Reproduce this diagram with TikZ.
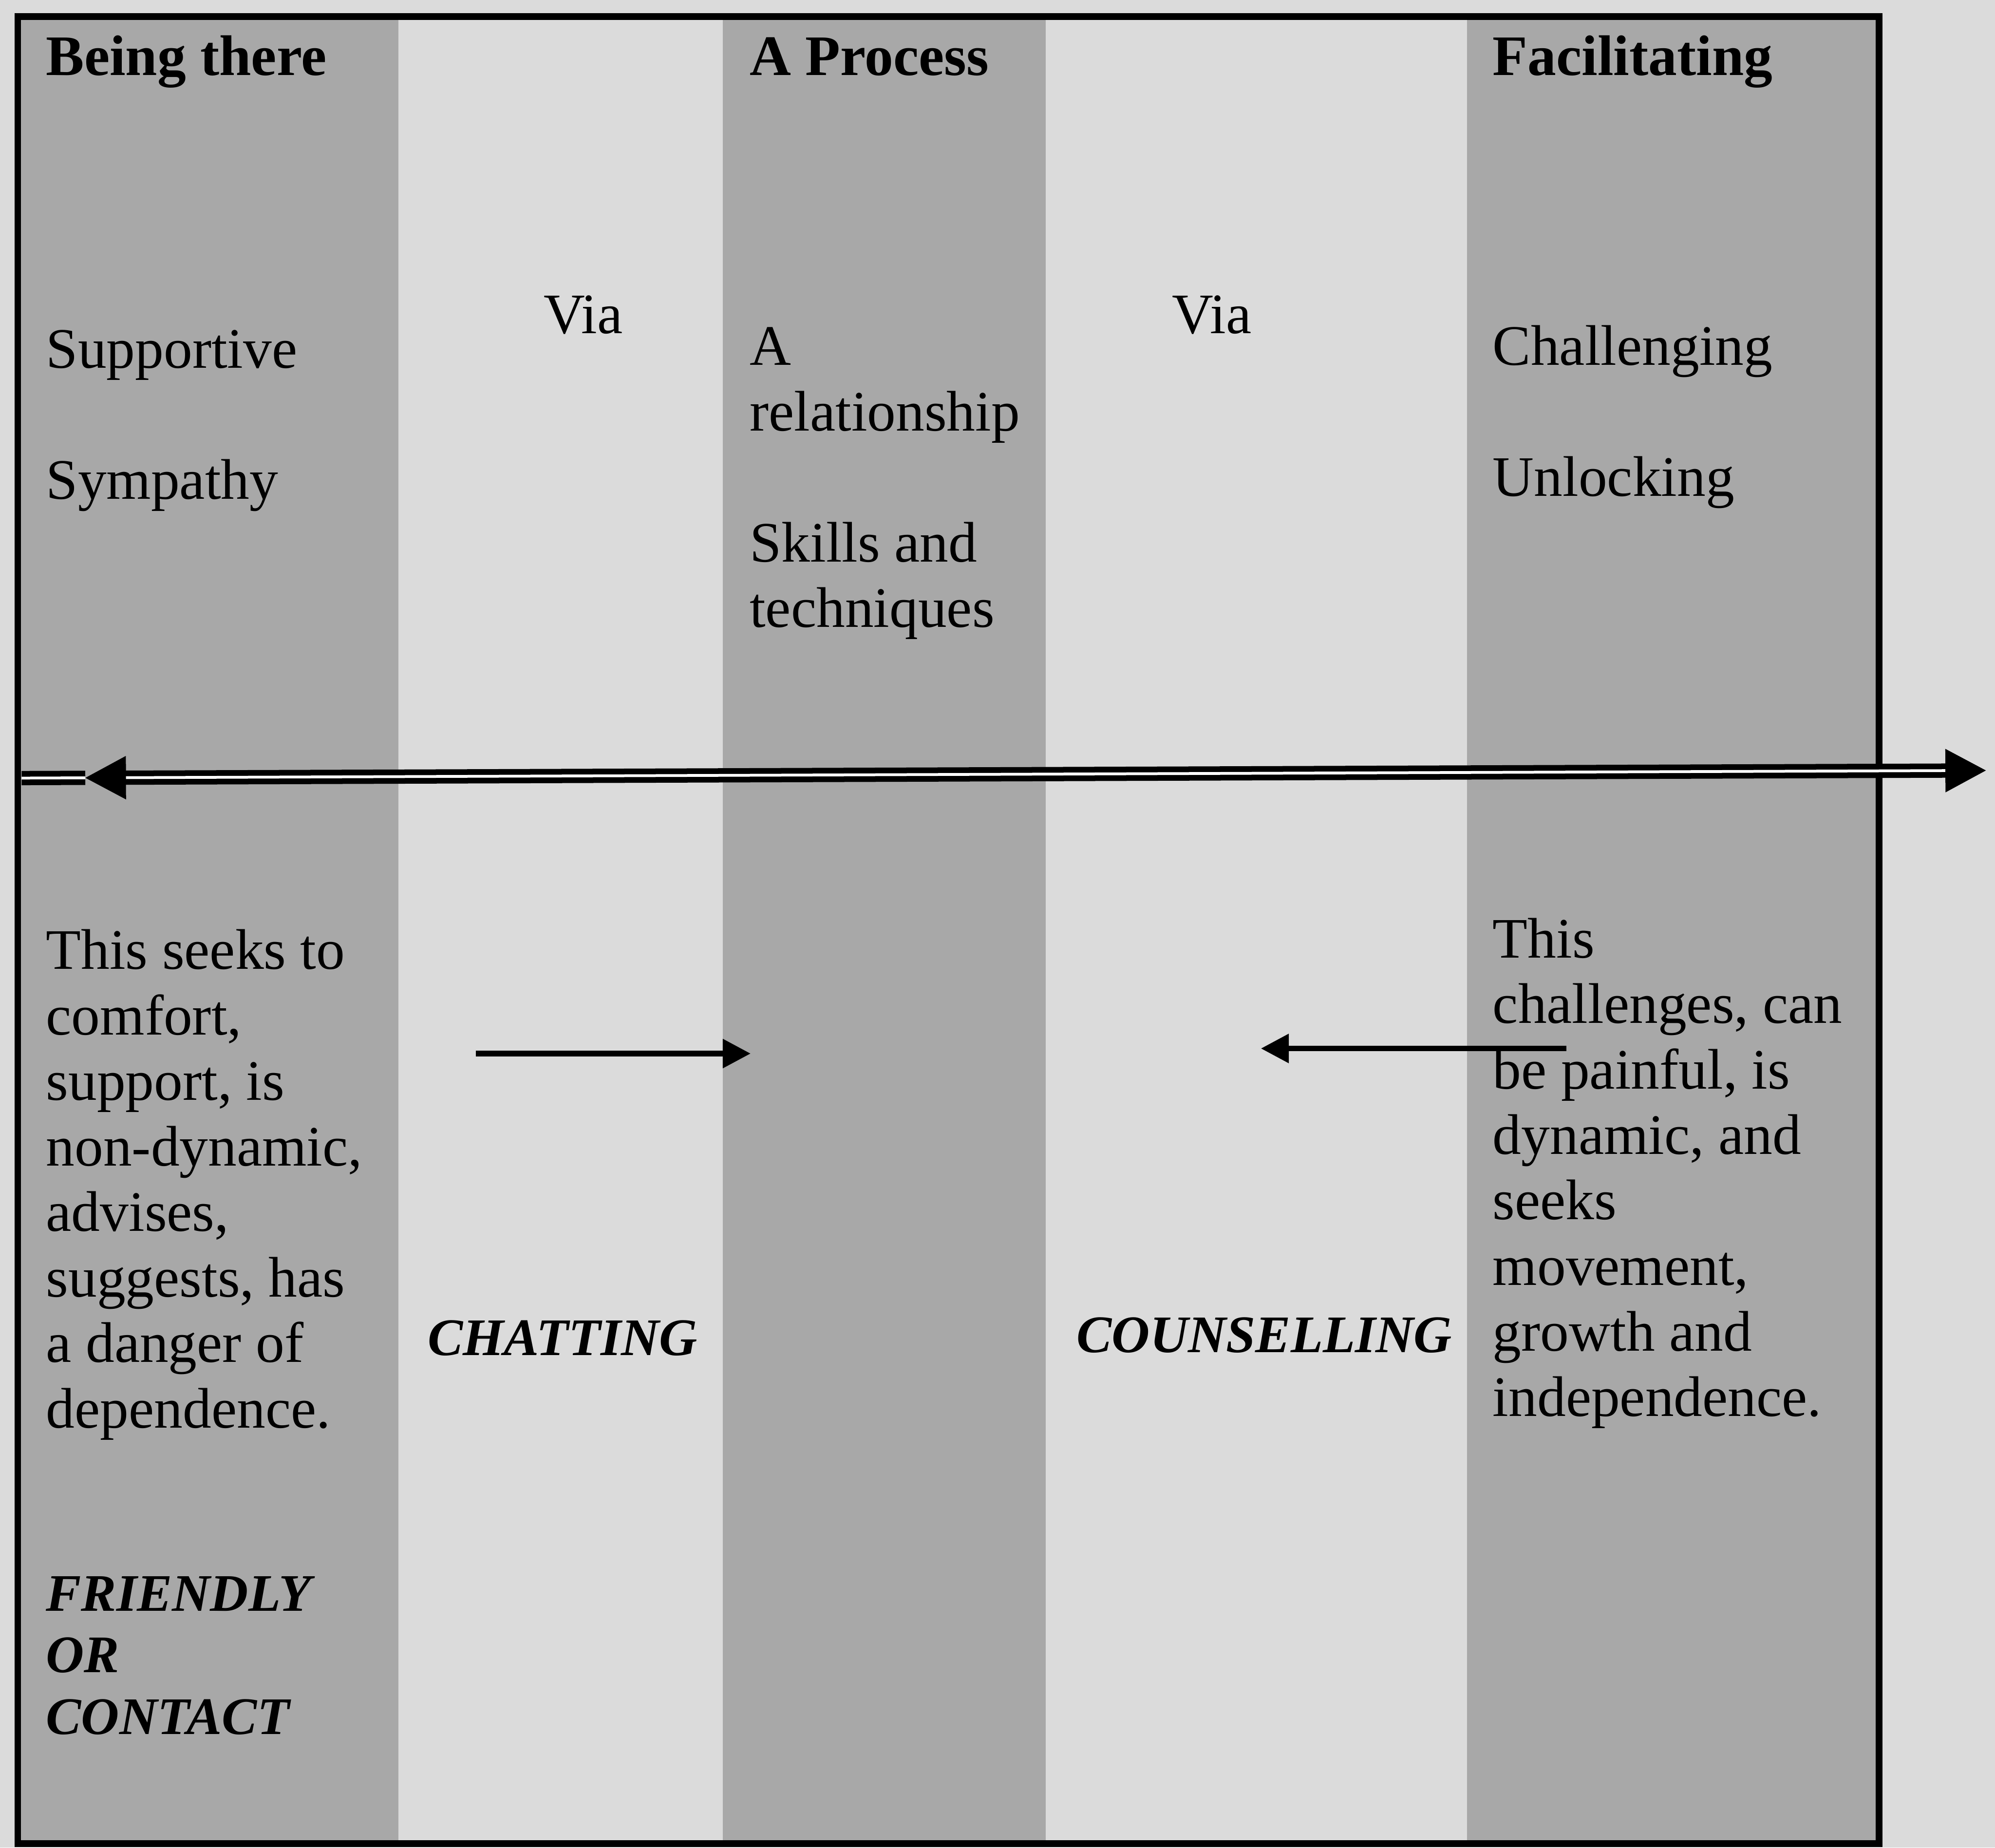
\documentclass[tikz,border=0pt]{standalone}
\usepackage{fontspec}
\setmainfont{Liberation Serif}
\usepackage{tikz}
\usetikzlibrary{positioning, calc}
\usetikzlibrary{arrows.meta}

\begin{document}
\begin{tikzpicture}[x=0.1mm, y=-0.1mm, font=\fontsize{12.8}{14.65}\selectfont, align=left, >={Triangle[length=2.2mm, width=2.2mm]}, line width=0.45mm]
        % Define colors
        \definecolor{paper}{gray}{0.86}
        \definecolor{stripe}{gray}{0.66}

        \tikzset{
            band/.style={rectangle, inner sep=0pt, outer sep=0pt, minimum height=143.6mm, anchor=north west},
            darkband/.style={band, fill=stripe},
            lightband/.style={band, fill=paper},
            txt/.style={inner sep=0pt, anchor=base west, text=black},
            head/.style={txt, font=\fontsize{12.8}{14.65}\selectfont\bfseries},
            term/.style={txt, font=\fontsize{11.8}{13.8}\selectfont\bfseries\itshape},
            axis/.style={draw=black, line width=0.45mm, double=white, double distance=0.22mm}
        }

        % Background
        \fill[paper] (0,0) rectangle (1568,1452);
        \useasboundingbox (0,0) rectangle (1568,1452);

        % Columns
        \node[darkband, minimum width=29.9mm] (col1) at (14,13) {};
        \node[lightband, minimum width=25.5mm, right=0pt of col1] (col2) {};
        \node[darkband, minimum width=25.4mm, right=0pt of col2] (col3) {};
        \node[lightband, minimum width=33.1mm, right=0pt of col3] (col4) {};
        \node[darkband, minimum width=32.4mm, right=0pt of col4] (col5) {};
        \draw[line width=1.5pt] (col1.north west) rectangle (col5.south east);

        % Nodes (base = last line)
        \node[head] (being) at (34,59) {Being there};
        \node[txt] (support) at (34,392) {Supportive\\[14.65pt]Sympathy};
        \node[txt] (seeks) at (34,1122) {This seeks to\\comfort,\\support, is\\non-dynamic,\\advises,\\suggests, has\\a danger of\\dependence.};
        \node[term] (friendly) at (34,1363) {FRIENDLY\\OR\\CONTACT};

        \node[txt] (via1) at (425,262) {Via};
        \node[term] (chatting) at (334,1065) {CHATTING};

        \node[head] (process) at (587,59) {A Process};
        \node[txt] (relation) at (587,493) {A\\relationship\\[14.65pt]Skills and\\techniques};

        \node[txt] (via2) at (919,262) {Via};
        \node[term] (counselling) at (844,1063) {COUNSELLING};

        \node[head] (facil) at (1171,59) {Facilitating};
        \node[txt] (challenge) at (1171,390) {Challenging\\[14.65pt]Unlocking};
        \node[txt] (painful) at (1171,1113) {This\\challenges, can\\be painful, is\\dynamic, and\\seeks\\movement,\\growth and\\independence.};

        % Edges
        \coordinate (axisL) at (17,611.5);
        \coordinate (headL) at (67,611.3);
        \coordinate (axisR) at (1561,605.5);
        \draw[axis] (axisL) -- (headL);
        \draw[axis, {Triangle[length=3.2mm, width=3.3mm]}-{Triangle[length=3.2mm, width=3.3mm]}] (headL) -- (axisR);

        \coordinate (chatA) at (374,828);
        \coordinate (chatB) at (590,828);
        \draw[->] (chatA) -- (chatB);
        \coordinate (counA) at (1231,824);
        \coordinate (counB) at (991,824);
        \draw[->] (counA) -- (counB);
\end{tikzpicture}
\end{document}
